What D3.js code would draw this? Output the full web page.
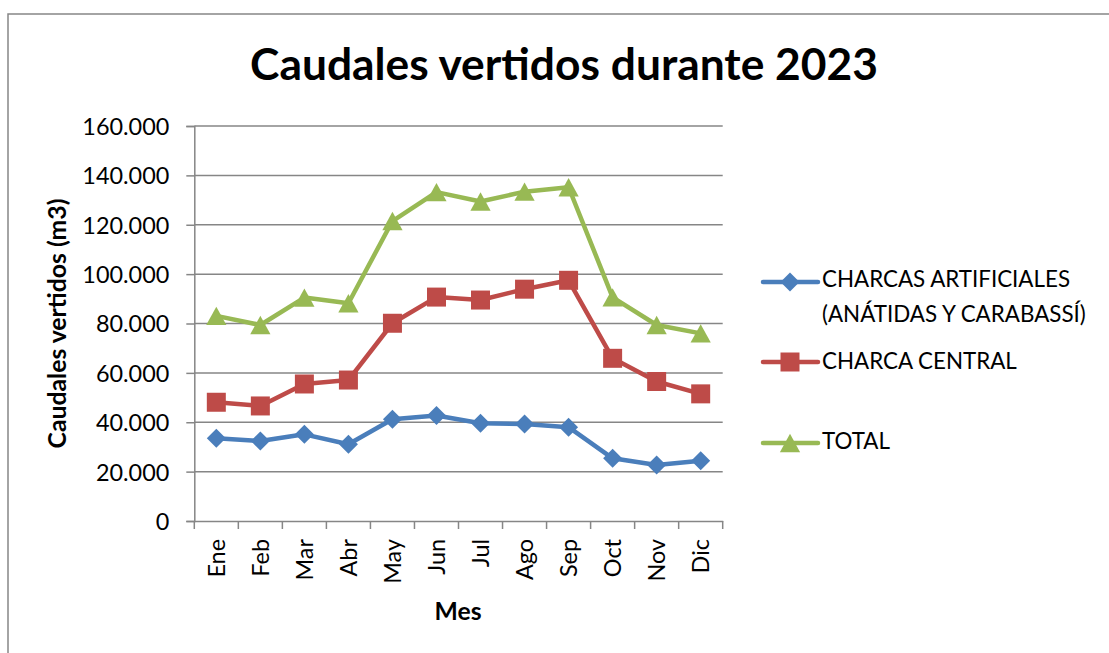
<!DOCTYPE html>
<html>
<head>
<meta charset="utf-8">
<script src="https://cdn.jsdelivr.net/npm/d3@7"></script>
<style>
  html, body { margin: 0; padding: 0; background: #fff; }
  svg { display: block; }
  text { font-family: Lato, "Open Sans", "Noto Sans", sans-serif; fill: #000; }
</style>
</head>
<body>
<svg id="chart" width="1109" height="653"></svg>
<script>
const months = ["Ene","Feb","Mar","Abr","May","Jun","Jul","Ago","Sep","Oct","Nov","Dic"];
const artificiales = [33500, 32400, 35100, 31100, 41200, 42700, 39600, 39300, 38000, 25400, 22700, 24400];
const central = [48100, 46600, 55500, 57100, 80100, 90700, 89500, 93900, 97500, 65900, 56500, 51500];
const total = [83100, 79400, 90500, 88200, 121500, 133200, 129400, 133400, 135200, 90600, 79400, 76000];
const yTicks = [0, 20000, 40000, 60000, 80000, 100000, 120000, 140000, 160000];
const seriesNames = ["CHARCAS ARTIFICIALES|(ANÁTIDAS Y CARABASSÍ)", "CHARCA CENTRAL", "TOTAL"];
const titleText = "Caudales vertidos durante 2023";
const yTitle = "Caudales vertidos (m3)";
const xTitle = "Mes";

const svg = d3.select("#chart");
const plot = {left: 194.3, right: 722.7, top: 126, bottom: 521};
const gridColor = "#868686";

// helper to fit text to a target width
function fit(sel, target, start) {
  sel.style("font-size", start + "px");
  const w = sel.node().getComputedTextLength();
  sel.style("font-size", (start * target / w).toFixed(2) + "px");
  return sel;
}

// outer border (extends past the right/bottom edge)
svg.append("rect").attr("x", 8).attr("y", 14).attr("width", 1120).attr("height", 660)
  .attr("fill", "#fff").attr("stroke", gridColor).attr("stroke-width", 1.5);

const x = d3.scaleBand().domain(months).range([plot.left, plot.right]);
const y = d3.scaleLinear().domain([0, 160000]).range([plot.bottom, plot.top]);

const loc = d3.formatLocale({decimal: ",", thousands: ".", grouping: [3], currency: ["", "€"]});
const fmt = v => v === 0 ? "0" : loc.format(",")(v);

// gridlines
svg.append("g").selectAll("line").data(yTicks.filter(d => d > 0)).join("line")
  .attr("x1", plot.left).attr("x2", plot.right)
  .attr("y1", d => y(d)).attr("y2", d => y(d))
  .attr("stroke", gridColor).attr("stroke-width", 1.5);

// y axis
const yAxis = svg.append("g").attr("transform", `translate(${plot.left},0)`)
  .call(d3.axisLeft(y).tickValues(yTicks).tickFormat(fmt).tickSize(8).tickPadding(17));
yAxis.select(".domain").attr("stroke", gridColor).attr("stroke-width", 1.5);
yAxis.selectAll(".tick line").attr("stroke", gridColor).attr("stroke-width", 1.5);
yAxis.selectAll(".tick text").attr("font-family", null).style("font-size", "23px").attr("dy", "0.36em");
fit(yAxis.selectAll(".tick text").filter(d => d === 160000), 87, 23);
const ySize = yAxis.selectAll(".tick text").filter(d => d === 160000).style("font-size");
yAxis.selectAll(".tick text").style("font-size", ySize);

// x axis
const xAxis = svg.append("g").attr("transform", `translate(0,${plot.bottom})`)
  .call(d3.axisBottom(x).tickSize(0).tickPadding(0));
xAxis.select(".domain").attr("stroke", gridColor).attr("stroke-width", 1.5);
xAxis.selectAll(".tick line").remove();
xAxis.selectAll(".tick text")
  .attr("font-family", null)
  .style("font-size", ySize)
  .attr("text-anchor", "end")
  .attr("transform", "rotate(-90)")
  .attr("x", -18).attr("y", 0).attr("dy", "0.36em");
// boundary ticks
const bounds = months.map(m => x(m)).concat([plot.right]);
svg.append("g").selectAll("line").data(bounds).join("line")
  .attr("x1", d => d).attr("x2", d => d)
  .attr("y1", plot.bottom).attr("y2", plot.bottom + 8)
  .attr("stroke", gridColor).attr("stroke-width", 1.5);

// title
fit(svg.append("text").attr("x", 564).attr("y", 80).attr("text-anchor", "middle")
  .attr("font-weight", "bold").text(titleText), 628, 40);

// axis titles
fit(svg.append("text").attr("transform", `translate(66,${(plot.top + plot.bottom) / 2}) rotate(-90)`)
  .attr("text-anchor", "middle").attr("font-weight", "bold").text(yTitle), 250, 22);
fit(svg.append("text").attr("x", 458).attr("y", 620).attr("text-anchor", "middle")
  .attr("font-weight", "bold").text(xTitle), 47, 22);

// series
const series = [
  {values: artificiales, color: "#4A7EBB", marker: "diamond"},
  {values: central, color: "#BE4B48", marker: "square"},
  {values: total, color: "#98B954", marker: "triangle"}
];
function markerPath(type, s) {
  if (type === "diamond") return `M0,${-s}L${s},0L0,${s}L${-s},0Z`;
  if (type === "square") return `M${-s},${-s}H${s}V${s}H${-s}Z`;
  return `M0,${-s}L${s * 1.1},${s}L${-s * 1.1},${s}Z`;
}
const markerSize = {diamond: 9.5, square: 9.5, triangle: 9.2};
const line = d3.line().x((d, i) => x(months[i]) + x.bandwidth() / 2).y(d => y(d));
series.forEach(s => {
  const g = svg.append("g");
  g.append("path").attr("d", line(s.values)).attr("fill", "none")
    .attr("stroke", s.color).attr("stroke-width", 4.5).attr("stroke-linejoin", "round").attr("stroke-linecap", "round");
  g.selectAll("path.m").data(s.values).join("path").attr("class", "m")
    .attr("transform", (d, i) => `translate(${x(months[i]) + x.bandwidth() / 2},${y(d)})`)
    .attr("d", markerPath(s.marker, markerSize[s.marker]))
    .attr("fill", s.color);
});

// legend
const legendY = [282, 362, 443];
const legend = svg.append("g");
series.forEach((s, i) => {
  const g = legend.append("g").attr("transform", `translate(0,${legendY[i]})`);
  g.append("line").attr("x1", 763).attr("x2", 818).attr("y1", 0).attr("y2", 0)
    .attr("stroke", s.color).attr("stroke-width", 4.5).attr("stroke-linecap", "round");
  g.append("path").attr("transform", "translate(790,0)").attr("d", markerPath(s.marker, markerSize[s.marker])).attr("fill", s.color);
});
const lines0 = seriesNames[0].split("|");
const t0 = legend.append("text").attr("x", 822).attr("y", 287).text(lines0[0]);
fit(t0, 248, 21);
const lsize = t0.style("font-size");
legend.append("text").attr("x", 822).attr("y", 322).style("font-size", lsize).text(lines0[1]);
legend.append("text").attr("x", 822).attr("y", 369).style("font-size", lsize).text(seriesNames[1]);
legend.append("text").attr("x", 822).attr("y", 449).style("font-size", lsize).text(seriesNames[2]);
</script>
</body>
</html>
